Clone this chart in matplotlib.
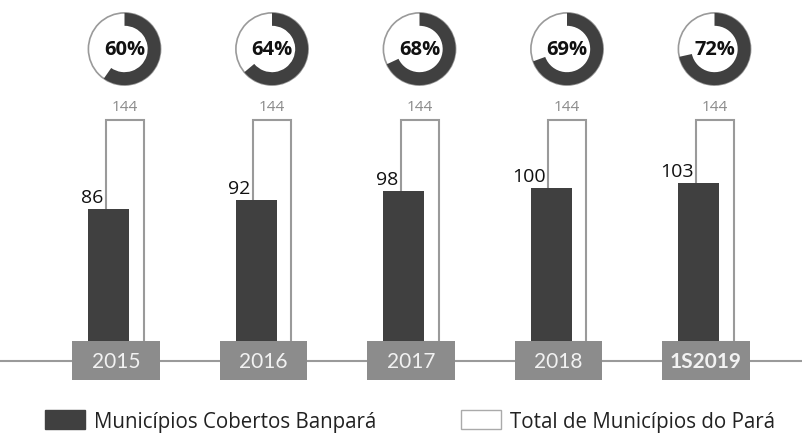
import matplotlib
matplotlib.use("Agg")
from matplotlib import pyplot as plt
from matplotlib.patches import Patch, Rectangle, Circle
import numpy as np

years = ['2015', '2016', '2017', '2018', '1S2019']
covered = [86, 92, 98, 100, 103]
totals = [144, 144, 144, 144, 144]
percent_labels = ['60%', '64%', '68%', '69%', '72%']

dark = '#404040'
edge_gray = '#9a9a9a'
box_gray = '#8c8c8c'

W, H = 802, 439
fig = plt.figure(figsize=(W / 100, H / 100), dpi=100)

# bar axes: bottom sits on top of the year boxes
ax = fig.add_axes([0, 1 - 343 / H, 1, (343 - 96) / H])
x = np.arange(len(years))
ax.set_xlim(-116 / 147.5, (W - 116) / 147.5)
ax.set_ylim(0, 160)
ax.axis('off')

ax.bar(x + 0.058, totals, 0.258, color='white', edgecolor=edge_gray, linewidth=1.5, zorder=1)
ax.bar(x - 0.05, covered, 0.278, color=dark, zorder=2)

# baseline and year boxes
ax.axhline(-12.3, color=edge_gray, linewidth=1.5, clip_on=False, zorder=0)
for i, yr in enumerate(years):
    ax.add_patch(Rectangle((x[i] - 0.298, -24.7), 0.596, 25.2, facecolor=box_gray,
                           edgecolor='none', clip_on=False, zorder=3))
    last = i == len(years) - 1
    ax.text(x[i], -12.6, yr, ha='center', va='center', color='#f2f2f2',
            fontsize=15, family=['Lato', 'DejaVu Sans'],
            fontweight='bold' if last else 'normal', zorder=4, clip_on=False)

# value labels
for i in range(len(years)):
    ax.text(x[i] + 0.058 - 0.129 - 0.015, covered[i] + 2, str(covered[i]),
            ha='right', va='bottom', fontsize=14, color='#111111', family='Open Sans')
    ax.text(x[i] + 0.058, totals[i] + 4, str(totals[i]), ha='center', va='bottom',
            fontsize=11, color='#8a8a8a', family='Open Sans')

# donuts above each column
r_px = 38
for i in range(len(years)):
    cx = 116 + 8.5 + 147.5 * i
    cy = 50
    dax = fig.add_axes([(cx - r_px) / W, 1 - (cy + r_px) / H, 2 * r_px / W, 2 * r_px / H])
    share = covered[i] / totals[i] * 100
    dax.pie([share, 100 - share], startangle=90, counterclock=False, radius=0.95,
            colors=[dark, 'none'], wedgeprops=dict(width=0.34, edgecolor='none'))
    dax.add_patch(Circle((0, 0), 0.95, fill=False, edgecolor=edge_gray, linewidth=1.2, zorder=0))
    dax.set_xlim(-1, 1)
    dax.set_ylim(-1, 1)
    dax.set_aspect('equal')
    dax.axis('off')
    dax.text(0, 0, percent_labels[i], ha='center', va='center', fontsize=14.5,
             fontweight='bold', color='#111111', family='Open Sans')

handles = [Patch(facecolor=dark, edgecolor=dark, label='Municípios Cobertos Banpará'),
           Patch(facecolor='white', edgecolor='#aaaaaa', label='Total de Municípios do Pará')]
fig.legend(handles=handles, loc='center left', bbox_to_anchor=(45 / W, 1 - 422 / H),
           ncol=2, frameon=False, handlelength=1.95, handleheight=1.05,
           handletextpad=0.45, columnspacing=4.1, borderpad=0, borderaxespad=0,
           prop={'family': 'Open Sans', 'size': 14.8}, labelcolor='#222222')

fig.savefig('out.png', dpi=100)
